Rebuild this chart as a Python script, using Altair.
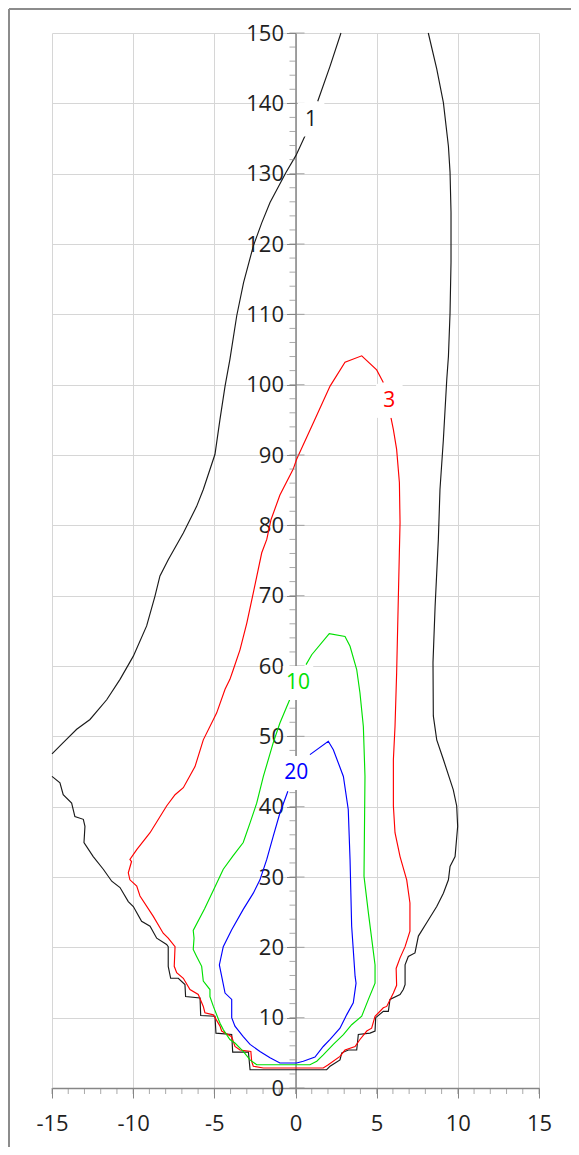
import altair as alt
import pandas as pd

# ---- contour level 1 (black), three open pieces ----
c1a_x = [2.80, 2.13, 1.37]
c1a_y = [150.0, 145.3, 140.3]

c1b_x = [0.59, 0.03, -0.58, -1.57, -2.08, -2.60, -3.20, -3.62, -4.04, -4.34, -4.65, -4.96,
         -5.68, -6.09, -6.91, -7.84, -8.35, -8.66, -9.17, -9.99, -10.81, -11.63, -12.66,
         -13.48, -14.31, -15.0]
c1b_y = [135.4, 132.6, 130.2, 125.9, 123.0, 119.7, 114.5, 109.8, 103.6, 99.8, 95.1, 90.1,
         85.1, 82.7, 78.9, 75.1, 72.8, 69.9, 65.7, 61.4, 58.1, 55.2, 52.4,
         51.0, 49.1, 47.5]

c1c_x = [-15.0, -14.51, -14.31, -13.79, -13.59, -13.07, -12.97, -13.03, -12.46, -11.84, -11.32,
         -10.81, -10.30, -9.99, -9.48, -8.96, -8.55, -7.94, -7.84, -7.84, -7.69, -7.22, -6.81,
         -6.77, -5.88, -5.84, -4.96, -4.90, -3.93, -3.87, -2.90, -2.80, 1.92, 2.13, 2.74, 2.85,
         3.26, 3.77, 3.87, 4.59, 4.90, 4.94, 5.41, 5.72, 5.82, 6.44, 6.64, 6.75, 6.75, 6.95,
         7.36, 7.57, 8.08, 8.70, 9.11, 9.42, 9.52, 9.83, 9.99, 9.93, 9.72, 9.11, 8.70, 8.49,
         8.47, 8.60, 8.80, 8.90, 9.11, 9.32, 9.42, 9.52, 9.58, 9.58, 9.52, 9.42, 9.11, 8.70, 8.18]
c1c_y = [44.3, 43.4, 41.7, 40.5, 38.6, 38.2, 37.2, 34.9, 32.9, 31.1, 29.4,
         28.5, 26.5, 25.8, 23.7, 23.0, 21.3, 20.4, 20.1, 17.3, 15.6, 15.6, 14.7,
         13.0, 12.8, 10.3, 10.2, 7.8, 7.6, 5.1, 5.1, 2.6, 2.6, 3.1, 4.0, 5.0,
         5.4, 5.4, 7.6, 7.8, 8.1, 10.0, 10.9, 10.9, 12.6, 13.3, 14.0, 14.7, 17.5, 18.7,
         19.2, 21.6, 23.5, 25.8, 27.7, 29.6, 31.5, 32.9, 37.2, 40.1, 42.4, 46.7, 49.5, 52.9,
         60.5, 68.5, 78.0, 85.1, 92.2, 100.8, 104.0, 110.2, 117.4, 124.5, 130.2, 133.9, 140.1, 144.9, 150.0]

# ---- contour level 3 (red) ----
c3_x = [5.41, 5.00, 4.08, 3.05, 2.13, 1.10, 0.07, -0.14, -0.96, -1.51, -1.77, -2.08, -2.60,
        -3.00, -3.42, -3.83, -4.04, -4.34, -4.86, -5.68, -6.19, -6.91, -7.42, -7.94, -8.96,
        -9.78, -10.20, -10.10, -10.30, -10.20, -9.78, -9.58, -8.76, -8.15, -7.84, -7.42, -7.47,
        -7.32, -6.91, -6.50, -5.99, -5.68, -5.58, -5.06, -4.65, -4.55, -3.93, -3.73, -3.42,
        -2.75, -2.70, -2.60, -1.98, 1.71, 2.02, 2.74, 3.05, 3.67, 3.97, 4.39, 4.69, 4.90, 5.41,
        5.62, 6.03, 6.23, 6.20, 6.44, 6.75, 7.05, 7.05, 6.85, 6.44, 6.13, 6.03, 6.03, 6.13,
        6.23, 6.44, 6.40, 6.23, 6.03, 5.88]
c3_y = [100.3, 102.1, 104.1, 103.2, 99.8, 94.6, 89.4, 88.0, 84.3, 80.8, 78.0, 76.1, 70.4,
        66.1, 62.3, 59.5, 58.1, 56.7, 53.3, 49.5, 45.7, 42.7, 41.7, 40.1, 36.3,
        33.9, 32.5, 32.2, 30.6, 29.6, 28.7, 27.3, 24.4, 22.0, 21.3, 20.1, 17.3,
        16.4, 15.6, 14.0, 13.3, 11.6, 10.7, 10.4, 8.8, 8.1, 7.3, 5.9, 5.4,
        5.2, 3.8, 3.1, 2.85, 2.85, 3.3, 4.5, 5.4, 5.9, 6.9, 8.1, 8.5, 10.2, 11.4,
        11.6, 13.5, 14.6, 17.0, 18.5, 20.1, 22.3, 26.3, 29.6, 32.9, 36.3, 40.1, 46.7, 51.4,
        59.0, 80.4, 86.1, 90.8, 93.6, 95.3]

# ---- contour level 10 (green) ----
c10_x = [0.65, 1.00, 2.08, 3.05, 3.36, 3.77, 3.97, 4.18, 4.28, 4.22, 4.49, 4.90, 4.90, 4.49,
         4.08, 3.46, 2.95, 2.33, 1.71, 1.31, 0.89, -2.39, -2.80, -3.22, -3.73, -4.04, -4.45,
         -4.65, -5.06, -5.27, -5.27, -5.68, -5.78, -6.09, -6.30, -6.25, -6.30, -5.60, -5.00,
         -4.45, -3.85, -3.22, -2.80, -2.39, -1.98, -1.37, -0.96, -0.36]
c10_y = [60.2, 61.6, 64.6, 64.2, 62.8, 59.5, 56.2, 51.4, 44.3, 30.1, 24.9, 17.5, 14.9, 12.6,
         10.2, 9.0, 7.6, 6.2, 4.7, 3.8, 3.3, 3.3, 4.0, 5.2, 6.4, 6.9, 8.3,
         9.2, 11.6, 13.0, 14.0, 15.2, 17.3, 18.7, 19.7, 21.3, 22.4, 25.5, 28.4,
         31.1, 33.0, 34.9, 37.7, 40.5, 44.3, 49.1, 51.9, 55.2]

# ---- contour level 20 (blue) ----
c20_x = [0.89, 2.02, 2.33, 2.95, 3.25, 3.36, 3.46, 3.67, 3.73, 3.56, 3.15, 2.74, 2.13, 1.71,
         1.20, 0.48, 0.07, -0.96, -1.57, -2.19, -2.80, -3.22, -3.73, -3.93, -3.93, -4.34,
         -4.55, -4.69, -4.45, -3.93, -3.22, -2.60, -2.19, -1.77, -1.37, -0.96, -0.47]
c20_y = [47.4, 49.3, 48.1, 44.3, 39.6, 32.5, 23.0, 15.9, 14.9, 12.1, 10.4, 8.5, 6.9, 5.9,
         4.4, 3.8, 3.55, 3.55, 4.3, 5.2, 6.2, 7.3, 8.8, 10.0, 12.6, 13.5,
         15.9, 17.5, 20.1, 22.5, 25.4, 27.7, 29.6, 32.5, 35.8, 39.1, 42.2]

# ---- contour labels ----
lab_text = ["1", "3", "10", "20"]
lab_x = [0.96, 5.78, 0.15, 0.05]
lab_y = [137.7, 97.7, 57.6, 44.8]
lab_box = ["narrow", "narrow", "wide", "wide"]

level_colors = {"1": "#1a1a1a", "3": "#ff0000", "10": "#00e000", "20": "#0000ff"}

# ---- axis ticks ----
x_major = [-15, -10, -5, 0, 5, 10, 15]
x_minor = list(range(-15, 16))
y_major = list(range(0, 151, 10))
y_minor = list(range(0, 151, 2))

pieces = [("1", "1a", c1a_x, c1a_y), ("1", "1b", c1b_x, c1b_y), ("1", "1c", c1c_x, c1c_y),
          ("3", "3", c3_x, c3_y), ("10", "10", c10_x, c10_y), ("20", "20", c20_x, c20_y)]
rows = []
for lev, seg, xs_, ys_ in pieces:
    for i, (xv, yv) in enumerate(zip(xs_, ys_)):
        rows.append({"x": xv, "y": yv, "seg": seg, "i": i, "col": level_colors[lev]})
lines_df = pd.DataFrame(rows)

labels_df = pd.DataFrame({"x": lab_x, "y": lab_y, "t": lab_text, "box": lab_box,
                          "col": [level_colors[t] for t in lab_text]})

xminor_df = pd.DataFrame({"x": x_minor, "y": [0] * len(x_minor)})
yminor_df = pd.DataFrame({"x": [0] * len(y_minor), "y": y_minor})
ymajor_df = pd.DataFrame({"x": [0] * len(y_major), "y": y_major})

FONT = "Open Sans"
AXC = "#868686"
GRID = "#d6d6d6"
TXT = "#1f1f1f"
FS = 22

W, H = 487, 1055

xs = alt.Scale(domain=[-15, 15], nice=False, zero=False)
ys = alt.Scale(domain=[0, 150], nice=False, zero=False)

x_axis = alt.Axis(values=x_major, grid=True, gridColor=GRID, gridWidth=1,
                  domainColor=AXC, domainWidth=1.5, tickColor=AXC, tickSize=10, tickWidth=1,
                  labelFont=FONT, labelFontSize=FS, labelColor=TXT, labelPadding=15,
                  labelExpr="datum.value < 0 ? '-' + abs(datum.value) : '' + datum.value",
                  labelOverlap=False, labelFlush=False, title=None)
y_axis = alt.Axis(values=y_major, grid=True, gridColor=GRID, gridWidth=1, orient="left",
                  offset=-W / 2, domainColor=AXC, domainWidth=1.5, tickColor=AXC, tickSize=9,
                  tickWidth=1, labelFont=FONT, labelFontSize=FS, labelColor=TXT,
                  labelPadding=3, labelOverlap=False, labelFlush=False, title=None)

lines = alt.Chart(lines_df).mark_line(strokeWidth=1.15).encode(
    x=alt.X("x:Q", scale=xs, axis=x_axis),
    y=alt.Y("y:Q", scale=ys, axis=y_axis),
    detail="seg:N",
    order=alt.Order("i:Q"),
    color=alt.Color("col:N", scale=None),
)

xminor = alt.Chart(xminor_df).mark_tick(orient="vertical", size=6, thickness=1, color=AXC,
                                        yOffset=3).encode(
    x=alt.X("x:Q", scale=xs), y=alt.Y("y:Q", scale=ys))
yminor = alt.Chart(yminor_df).mark_tick(orient="horizontal", size=6, thickness=1, color=AXC,
                                        xOffset=-3).encode(
    x=alt.X("x:Q", scale=xs), y=alt.Y("y:Q", scale=ys))
ymajor = alt.Chart(ymajor_df).mark_tick(orient="horizontal", size=9, thickness=1, color=AXC,
                                        xOffset=4.5).encode(
    x=alt.X("x:Q", scale=xs), y=alt.Y("y:Q", scale=ys))

boxes = alt.Chart(labels_df).mark_point(filled=True, opacity=1, color="white",
                                        strokeWidth=0).encode(
    x=alt.X("x:Q", scale=xs), y=alt.Y("y:Q", scale=ys),
    shape=alt.Shape("box:N", scale=alt.Scale(
        domain=["narrow", "wide"],
        range=["M-0.78,-1H0.78V1H-0.78Z", "M-0.9,-1H0.9V1H-0.9Z"]), legend=None),
    size=alt.value(34 * 34),
)

texts = alt.Chart(labels_df).mark_text(font=FONT, fontSize=FS - 1, baseline="middle",
                                       align="center").encode(
    x=alt.X("x:Q", scale=xs), y=alt.Y("y:Q", scale=ys),
    text="t:N", color=alt.Color("col:N", scale=None))

border_left = alt.Chart(pd.DataFrame({"a": [0]})).mark_rule(color="#8c8c8c", strokeWidth=2).encode(
    x=alt.value(-43), y=alt.value(-24), y2=alt.value(1114))
border_top = alt.Chart(pd.DataFrame({"a": [0]})).mark_rule(color="#8c8c8c", strokeWidth=2).encode(
    x=alt.value(-43), x2=alt.value(520), y=alt.value(-24))

chart = alt.layer(lines, xminor, yminor, ymajor, boxes, texts, border_left, border_top).properties(
    width=W, height=H,
    autosize=alt.AutoSizeParams(type="none"),
    padding={"left": 44, "top": 25, "right": 32, "bottom": 59},
).configure_view(stroke=None)

chart.save("out.html", embed_options={"renderer": "svg", "actions": False})
